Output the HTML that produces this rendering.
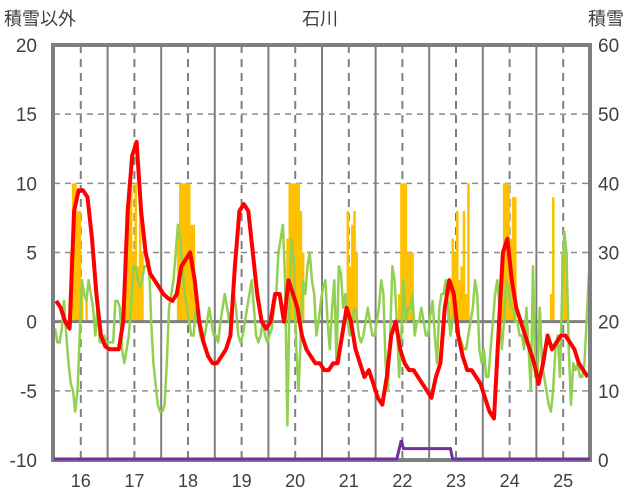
<!DOCTYPE html>
<html><head><meta charset="utf-8"><style>
body{margin:0;background:#fff;}
svg{display:block;font-family:"Liberation Sans","Noto Sans CJK JP",sans-serif;}
</style></head><body>
<svg id="chart" width="636" height="501" viewBox="0 0 636 501">
<text x="320" y="25" text-anchor="middle" font-size="18" fill="#404040">石川</text>
<text x="4" y="25" font-size="18" fill="#404040">積雪以外</text>
<text x="588" y="25" font-size="18" fill="#404040">積雪</text>
<g id="grid"></g><g id="bars"></g><g id="lines"></g><g id="axes"></g><g id="top"></g>
</svg>
<script>
const years=["16","17","18","19","20","21","22","23","24","25"];
const leftTicks=[20,15,10,5,0,-5,-10];
const rightTicks=[60,50,40,30,20,10,0];
const redVals=[1.5,1,0,-0.5,8,9.5,9.5,9,6,2,-1,-1.8,
-2,-2,-2,0,8,12,13,8,5,3.5,3,2.5,
2,1.7,1.5,2,4,4.5,5,3,0,-1.5,-2.5,-3,
-3,-2.5,-2,-1,4,8,8.5,8,5,2,0,-0.5,
0,2,2,0,3,2,1,-1,-2,-2.5,-3,-3,
-3.5,-3.5,-3,-3,-1,1,0,-2,-3,-4,-3.5,-4.5,
-5.5,-6,-4,-1,0,-2,-3,-3.5,-3.5,-4,-4.5,-5,
-5.5,-4,-3,1,3,2,-1,-2.5,-3.5,-3.5,-4,-4.5,
-5.5,-6.5,-7,-1,5,6,3,1,0,-1,-2,-3,
-4.5,-3,-1,-2,-1.5,-1,-1,-1.5,-2,-3,-3.5,-4];
const greenVals=[-0.5,-1.5,-1.5,-0.5,1.5,-1,-3,-4.5,-5,-6.5,-5,-1,3,2,1.5,3,2,1,-1,1,-1.5,-1.5,-1,-1.5,
-1.5,-1.5,-1.5,1.5,1.5,1,-2,-3,-2,-1,1,4,4,3,2.5,3,4,4,4.5,0,-3,-4.5,-6,-6.5,
-6.5,-6,-3,1,2,3,5,7,6,4,2,1,0,-1,-1,1,0,-1,-1.5,-1,0,1,0,-1,
-1,-1.5,0,1,2,1,0,1,2,1,-1,-1.5,-1,0,1,2,3,1,-1,-1.5,-1,0,-1,-1.5,
-1,-0.5,1,2,5,6,7,3,-7.5,2,6,4,-2,-5,-1,3,2,4,5,3,2,-1,0,1.5,
2.5,3,0,-2,1,3,-3,4,3.5,1,2,0,-1,0,1,0.5,-1,-1.5,-1,0,1,0,-1,-1,
0,1,3,2,-3,-5,-1,4,3,0,-4,-1,3,0,1,1,2,-1,0,0,1,0,-1,-1,
0.5,1.5,-1,-3,1,2,2,3,1,-1,0,1,0,-1,-1.5,-2,-2,-1,0,1,3,2,-2,-3,
-2,-4,-4,-2,0,2,3,1,-2,0,3,2.5,1,1,0,0,-1,-1,-2,1,-2,-5,4,-4,
-4,1,-3,-4,-5,-6,-6.5,-5,-2,-1,-4,2,6.5,5,-2,-6,-3,-3.5,-3,-4,-4,-3,0,3.5];
const snowIdx=[7,8,9,10,11,12,13,14,15, 31,32,33,34,35,36,37,38,39,40, 55,56,57,58,59,60,61,62,63, 88,
104,105,106,107,108,109,110,111, 130,131,132,133,134,135,136, 154,155,156,157,158,159,160,
176,177,178,179,180,181,182,183,184,185, 200,201,202,203,204,205,206,207,208, 222,223,225,227,228,229,230,231];
const snowVals=[30,40,40,36,36,26,20,24,6, 24,30,40,40,30,40,28,40,30,20, 34,40,40,40,40,40,34,34,20, 20,
32,40,40,40,40,40,36,30, 12,36,28,34,36,30,20, 24,40,40,40,30,30,30,
22,26,32,30,36,26,28,36,24,40, 28,40,40,40,32,38,38,16,10, 24,38,20,30,30,30,20,16];
const purpleIdx=[153,155,156,177,178];
const purpleVals=[0,2.7,1.5,1.5,0];

const NS="http://www.w3.org/2000/svg";
const X0=54,X1=590,Y0=45,Y1=460,PER=24;
const step=(X1-X0)/(years.length*PER);
const yL=v=>Y1-(v+10)/30*(Y1-Y0);
const yR=v=>Y1-v/60*(Y1-Y0);
const xAt=(i,per)=>X0+(X1-X0)*(i+0.5)/(years.length*per);
function mk(tag,attrs,parent){const e=document.createElementNS(NS,tag);for(const k in attrs)e.setAttribute(k,attrs[k]);document.getElementById(parent).appendChild(e);return e;}

leftTicks.forEach(v=>{
  if(v===20||v===-10)return;
  const l=mk('line',{x1:X0,x2:X1,y1:yL(v),y2:yL(v),stroke:'#8c8c8c','stroke-width':1.5,'stroke-dasharray':v===0?'':'6,5'},'grid');
  
  
});
years.forEach((y,i)=>{
  const xb=X0+(X1-X0)*i/years.length, xm=X0+(X1-X0)*(i+0.5)/years.length;
  if(i>0){const l=mk('line',{x1:xb,x2:xb,y1:Y0,y2:Y1,stroke:'#7f7f7f','stroke-width':2},'grid');
  
  }
  const d=mk('line',{x1:xm,x2:xm,y1:Y0,y2:Y1,stroke:'#7f7f7f','stroke-width':2,'stroke-dasharray':'8,6'},'grid');
  
  
  const t=mk('text',{x:xm,y:487,'text-anchor':'middle','font-size':18,fill:'#404040'},'axes');
  t.textContent=y;
  
  
});
const base=yL(0);
snowIdx.forEach((ix,k)=>{
  const x=X0+ix*step, top=yR(snowVals[k]);
  const r=mk('rect',{x:x,y:top,width:step+0.3,height:Math.max(0,base-top),fill:'#ffc000'},'bars');
  
  
});
{const z=mk('line',{x1:X0,x2:X1,y1:base,y2:base,stroke:'#7f7f7f','stroke-width':3},'bars');

}
function line(vals,per,color,name,w,parent){
  const p=vals.map((v,i)=>xAt(i,per).toFixed(1)+','+yL(v).toFixed(1)).join(' ');
  const e=mk('polyline',{points:p,fill:'none',stroke:color,'stroke-width':w,'stroke-linejoin':'round'},parent);
  
  
}
line(greenVals,24,'#92d050','green-series',2.5,'lines');
line(redVals,12,'#ff0000','red-series',4,'lines');
{const f=mk('rect',{x:X0-1,y:Y0,width:X1-X0+1,height:Y1-Y0,fill:'none',stroke:'#7f7f7f','stroke-width':4},'axes');

}
{
  const pts=[[X0,yR(0)]];
  purpleIdx.forEach((ix,k)=>pts.push([X0+(ix+0.5)*step,yR(purpleVals[k])]));
  pts.push([X1,yR(0)]);
  const e=mk('polyline',{points:pts.map(p=>p[0].toFixed(1)+','+(p[1]-1).toFixed(1)).join(' '),fill:'none',stroke:'#7030a0','stroke-width':3},'top');
  
  
}
leftTicks.forEach(v=>{
  const t=mk('text',{x:37,y:yL(v)+7,'text-anchor':'end','font-size':19,fill:'#404040'},'axes');
  t.textContent=v;
  
  
});
rightTicks.forEach(v=>{
  const t=mk('text',{x:598,y:yR(v)+7,'font-size':19,fill:'#404040'},'axes');
  t.textContent=v;
  
  
});
</script>
</body></html>
